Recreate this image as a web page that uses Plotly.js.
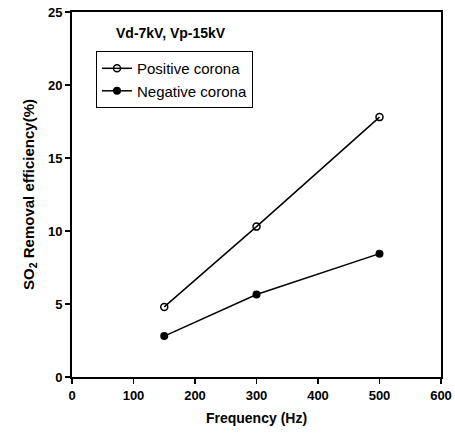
<!DOCTYPE html>
<html><head><meta charset="utf-8">
<script src="https://cdn.plot.ly/plotly-3.0.1.min.js"></script>
<style>html,body{margin:0;padding:0;background:#fff}#chart{width:455px;height:434px}</style>
</head><body><div id="chart"></div>
<script>
const frequency = [150, 300, 500];
const positiveCorona = [4.8, 10.3, 17.8];
const negativeCorona = [2.8, 5.65, 8.45];
const seriesNames = ["Positive corona", "Negative corona"];
const conditionLabel = "Vd-7kV, Vp-15kV";
const xTickValues = [0, 100, 200, 300, 400, 500, 600];
const yTickValues = [0, 5, 10, 15, 20, 25];

const font = "Liberation Sans, Arial, sans-serif";
const traces = [
  {x: frequency, y: positiveCorona, name: seriesNames[0], type: "scatter", mode: "lines+markers",
   line: {color: "#000", width: 1.5},
   marker: {symbol: "circle-open", size: 7, color: "#000", line: {width: 1.5, color: "#000"}}},
  {x: frequency, y: negativeCorona, name: seriesNames[1], type: "scatter", mode: "lines+markers",
   line: {color: "#000", width: 1.5},
   marker: {symbol: "circle", size: 8, color: "#000"}}
];
const axisCommon = {
  showgrid: false, zeroline: false, showline: true, linecolor: "#000", linewidth: 2,
  mirror: true, ticks: "outside", ticklen: 5, tickwidth: 1.5, tickcolor: "#000",
  tickmode: "array",
  tickfont: {family: font, size: 13, color: "#000"}
};
const layout = {
  width: 455, height: 434,
  margin: {l: 72, r: 14, t: 12, b: 57},
  paper_bgcolor: "#fff", plot_bgcolor: "#fff",
  showlegend: true,
  legend: {x: 0.065, y: 0.893, xanchor: "left", yanchor: "top", bordercolor: "#000", borderwidth: 1,
    bgcolor: "#fff", font: {family: font, size: 15, color: "#000"}, tracegroupgap: 0, itemwidth: 30},
  xaxis: Object.assign({}, axisCommon, {range: [0, 600],
    tickvals: xTickValues, ticktext: xTickValues.map(v => "<b>" + v + "</b>"),
    title: {text: "<b>Frequency (Hz)</b>", font: {family: font, size: 14, color: "#000"}, standoff: 12}}),
  yaxis: Object.assign({}, axisCommon, {range: [0, 25],
    tickvals: yTickValues, ticktext: yTickValues.map(v => "<b>" + v + "</b>"),
    title: {text: "<b>SO<sub>2</sub> Removal efficiency(%)</b>", font: {family: font, size: 15, color: "#000"}, standoff: 10}}),
  annotations: [{text: "<b>" + conditionLabel + "</b>", xref: "paper", yref: "paper", x: 0.115, y: 0.915,
    xanchor: "left", yanchor: "bottom", showarrow: false, font: {family: font, size: 14, color: "#000"}}]
};
Plotly.newPlot("chart", traces, layout, {displayModeBar: false, staticPlot: true});
</script></body></html>
